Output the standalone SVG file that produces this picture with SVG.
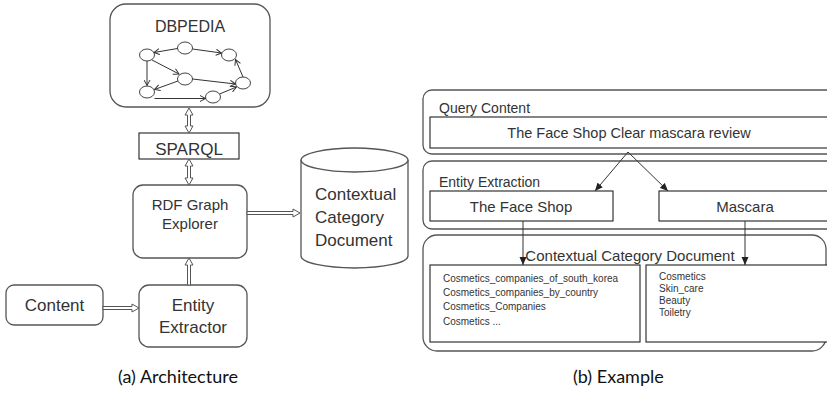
<svg xmlns="http://www.w3.org/2000/svg" width="827" height="396" viewBox="0 0 827 396">
<defs>
<style>
.box{fill:#fff;stroke:#555;stroke-width:1.3}
.ibox{fill:#fff;stroke:#222;stroke-width:1.1}
.t{font-family:"Liberation Sans",Arial,sans-serif;fill:#333}
.hol{fill:#fff;stroke:#555;stroke-width:1}
.g{fill:#fff;stroke:#444;stroke-width:1}
.ge{fill:none;stroke:#333;stroke-width:1;marker-end:url(#v)}
.ar{fill:none;stroke:#333;stroke-width:1;marker-end:url(#tri)}
.cap{font-family:Lato,"Open Sans",sans-serif;fill:#111;font-size:18px}
</style>
<marker id="v" markerWidth="7" markerHeight="7" refX="6" refY="3.5" orient="auto" markerUnits="userSpaceOnUse">
<path d="M0.5,0.5 L6,3.5 L0.5,6.5" fill="none" stroke="#333" stroke-width="1"/>
</marker>
<marker id="tri" markerWidth="8" markerHeight="8" refX="8" refY="4" orient="auto" markerUnits="userSpaceOnUse">
<path d="M0,0.5 L8,4 L0,7.5 Z" fill="#222"/>
</marker>
</defs>

<!-- Left panel -->
<g id="dbpedia">
<rect class="box" x="110" y="4" width="160" height="103" rx="16"/>
<text class="t" x="190" y="32" font-size="16" text-anchor="middle">DBPEDIA</text>
<ellipse class="g" cx="147" cy="55" rx="7.5" ry="6"/>
<ellipse class="g" cx="185" cy="48" rx="7.5" ry="6"/>
<ellipse class="g" cx="229" cy="55" rx="7.5" ry="6"/>
<ellipse class="g" cx="185" cy="79" rx="7.5" ry="6"/>
<ellipse class="g" cx="243" cy="83" rx="7.5" ry="6"/>
<ellipse class="g" cx="147" cy="92" rx="7.5" ry="6"/>
<ellipse class="g" cx="213" cy="97" rx="7.5" ry="6"/>
<line class="ge" x1="177.5" y1="48.5" x2="154" y2="52.5"/>
<line class="ge" x1="192.5" y1="49" x2="221.5" y2="53"/>
<line class="ge" x1="152" y1="60" x2="179" y2="74"/>
<line class="ge" x1="147" y1="61" x2="147" y2="85.5"/>
<line class="ge" x1="178" y1="81" x2="154.5" y2="89.5"/>
<line class="ge" x1="192.5" y1="79" x2="235.5" y2="84"/>
<line class="ge" x1="154.5" y1="98.5" x2="205.5" y2="98.5"/>
<line class="ge" x1="219.5" y1="94" x2="236.5" y2="87"/>
<line class="ge" x1="243" y1="77" x2="235.5" y2="59.5"/>
</g>

<g id="sparql">
<rect class="ibox" x="139" y="133" width="100" height="26"/>
<text class="t" x="189" y="155" font-size="17" text-anchor="middle">SPARQL</text>
</g>

<g id="rdf">
<rect class="box" x="133" y="185" width="114" height="73" rx="10"/>
<text class="t" x="190" y="210" font-size="15" text-anchor="middle">RDF Graph</text>
<text class="t" x="190" y="229" font-size="15" text-anchor="middle">Explorer</text>
</g>

<g id="ccd">
<path class="box" d="M301,160 V256 A53.5,12 0 0 0 408,256 V160"/>
<ellipse class="box" cx="354.5" cy="160" rx="53.5" ry="12"/>
<text class="t" x="315" y="200" font-size="17">Contextual</text>
<text class="t" x="315" y="223" font-size="17">Category</text>
<text class="t" x="315" y="246" font-size="17">Document</text>
</g>

<g id="content">
<rect class="box" x="6" y="285" width="97" height="40" rx="8"/>
<text class="t" x="54.5" y="311" font-size="17" text-anchor="middle">Content</text>
</g>

<g id="extractor">
<rect class="box" x="139" y="285" width="108" height="62" rx="10"/>
<text class="t" x="193" y="311" font-size="17" text-anchor="middle">Entity</text>
<text class="t" x="193" y="333" font-size="17" text-anchor="middle">Extractor</text>
</g>

<g id="connectors-left">
<path class="hol" d="M187.5,115 H185 L189,108 L193,115 H190.5 V126 H193 L189,133 L185,126 H187.5 Z"/>
<path class="hol" d="M187.5,166 H185 L189,159 L193,166 H190.5 V178 H193 L189,185 L185,178 H187.5 Z"/>
<path class="hol" d="M247,211.5 H293 V209 L300,213 L293,217 V214.5 H247 Z"/>
<path class="hol" d="M103,306.5 H132 V304 L139,308 L132,312 V309.5 H103 Z"/>
<path class="hol" d="M187.5,285 V265 H185 L189,258 L193,265 H190.5 V285 Z"/>
</g>

<!-- Right panel -->
<g id="query">
<rect class="box" x="423" y="90" width="420" height="64" rx="9"/>
<text class="t" x="439" y="113" font-size="14">Query Content</text>
<rect class="ibox" x="430" y="117" width="410" height="31"/>
<text class="t" x="629" y="138" font-size="14.5" text-anchor="middle">The Face Shop Clear mascara review</text>
</g>

<g id="extraction">
<rect class="box" x="423" y="161" width="420" height="68" rx="9"/>
<text class="t" x="439" y="187" font-size="14">Entity Extraction</text>
<rect class="ibox" x="430" y="191" width="183" height="30"/>
<text class="t" x="521" y="212" font-size="15" text-anchor="middle">The Face Shop</text>
<rect class="ibox" x="659" y="191" width="180" height="30"/>
<text class="t" x="745" y="212" font-size="15" text-anchor="middle">Mascara</text>
</g>

<g id="category">
<rect class="box" x="423" y="235" width="403" height="116" rx="14"/>
<text class="t" x="630" y="261" font-size="15" text-anchor="middle">Contextual Category Document</text>
<rect class="ibox" x="430" y="265" width="210" height="77"/>
<text class="t" x="443" y="282" font-size="10">Cosmetics_companies_of_south_korea</text>
<text class="t" x="443" y="296" font-size="10">Cosmetics_companies_by_country</text>
<text class="t" x="443" y="310" font-size="10">Cosmetics_Companies</text>
<text class="t" x="443" y="325" font-size="10">Cosmetics  ...</text>
<rect class="ibox" x="646" y="265" width="190" height="77"/>
<text class="t" x="659" y="280" font-size="10">Cosmetics</text>
<text class="t" x="659" y="292" font-size="10">Skin_care</text>
<text class="t" x="659" y="304" font-size="10">Beauty</text>
<text class="t" x="659" y="316" font-size="10">Toiletry</text>
</g>

<g id="connectors-right">
<line class="ar" x1="628" y1="152" x2="595" y2="191"/>
<line class="ar" x1="628" y1="152" x2="668" y2="191"/>
<line class="ar" x1="523" y1="221" x2="523" y2="265"/>
<line class="ar" x1="745" y1="221" x2="745" y2="265"/>
</g>

<text class="cap" x="118" y="383">(a) Architecture</text>
<text class="cap" x="573" y="383">(b) Example</text>
</svg>
